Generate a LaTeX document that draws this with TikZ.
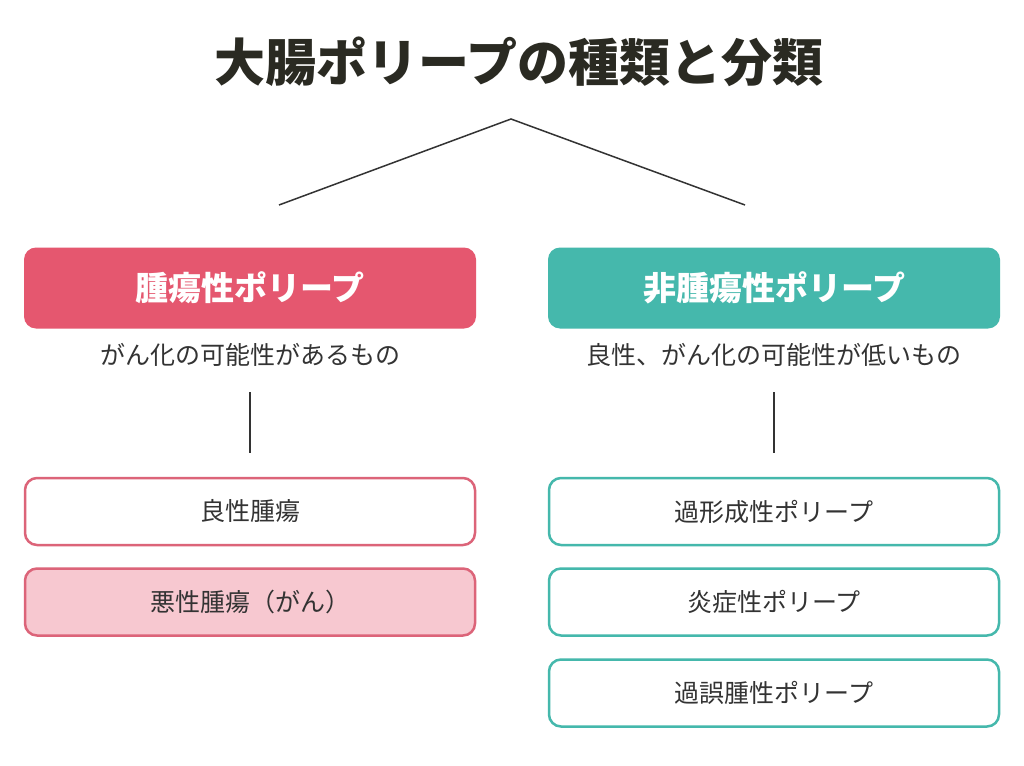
\documentclass[tikz,border=0pt]{standalone}
\usepackage{fontspec}
\setmainfont{Noto Sans CJK JP}
\usepackage{tikz}
\usetikzlibrary{positioning,calc}

\definecolor{tumorred}{HTML}{E5576F}
\definecolor{tumorline}{HTML}{DC6479}
\definecolor{tumorpale}{HTML}{F7C8D0}
\definecolor{benignteal}{HTML}{45B8AC}
\definecolor{inktext}{HTML}{333333}
\definecolor{titleink}{HTML}{2A2A22}

\begin{document}
\begin{tikzpicture}[x=1pt,y=-1pt,
	head/.style={rounded corners=12pt, minimum width=452pt, minimum height=81pt,
		inner sep=0pt, text=white, font=\bfseries\fontsize{33}{33}\selectfont},
	item/.style={rounded corners=12pt, minimum width=450pt, minimum height=67pt,
		inner sep=0pt, line width=2.5pt, fill=white, text=inktext,
		font=\fontsize{25}{25}\selectfont},
	note/.style={text=inktext, inner sep=0pt, font=\fontsize{25}{25}\selectfont},
	branch/.style={inktext, line width=1.5pt}]
	\useasboundingbox[fill=white] (0,0) rectangle (1024,765);

	\node[text=titleink, font=\bfseries\fontsize{51}{51}\selectfont]
		  (title) at (519,62) {大腸ポリープの種類と分類};

	\node[head,fill=tumorred] (T) at (250,288) {腫瘍性ポリープ};
	\node[head,fill=benignteal] (N) at (774,288) {非腫瘍性ポリープ};

	\node[note] (Tnote) at (250,355) {がん化の可能性があるもの};
	\node[note] (Nnote) at (774,355) {良性、がん化の可能性が低いもの};

	\node[item,draw=tumorline] (T1) at (250,511.5) {良性腫瘍};
	\node[item,draw=tumorline,fill=tumorpale] (T2) at (250,602) {悪性腫瘍（がん）};

	\node[item,draw=benignteal] (N1) at (774,511.5) {過形成性ポリープ};
	\node[item,draw=benignteal] (N2) at (774,602) {炎症性ポリープ};
	\node[item,draw=benignteal] (N3) at (774,693) {過誤腫性ポリープ};

	\coordinate (top) at (511,119);
	\coordinate (topL) at (279,205);
	\coordinate (topR) at (745,205);
	\coordinate (Ta) at (250,392);
	\coordinate (Tb) at (250,453);
	\coordinate (Na) at (774,392);
	\coordinate (Nb) at (774,453);

	\draw[branch] (topL) -- (top) -- (topR);
	\draw[branch] (Ta) -- (Tb);
	\draw[branch] (Na) -- (Nb);
\end{tikzpicture}
\end{document}
